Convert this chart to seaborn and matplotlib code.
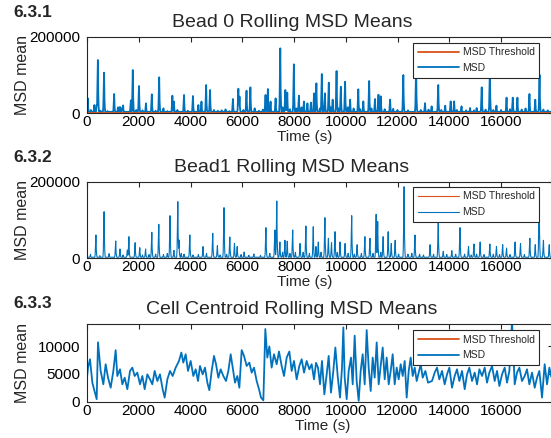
# -*- coding: utf-8 -*-
"""
Rolling MSD means for bead 0, bead 1 and the cell centroid (figure 6.3.1 - 6.3.3).
"""
import numpy as np
import pandas as pd
import matplotlib
matplotlib.use("Agg")
import matplotlib.pyplot as plt
import seaborn as sns

# ==============================================================================
# DATA
# ==============================================================================
T_END = 17940
X_TICKS = [0, 2000, 4000, 6000, 8000, 10000, 12000, 14000, 16000]

# Bead 0: spike times (s) and peak heights of the rolling MSD mean
bead0_spike_t = [0, 150, 290, 370, 425, 520, 657, 800, 1043, 1200, 1280, 1360, 1400,
                 1688, 1777, 1900, 2010, 2150, 2280, 2512, 2650, 2795, 2950, 3100,
                 3300, 3360, 3500, 3750, 3900, 4100, 4300, 4420, 4600, 4750, 4900,
                 5050, 5200, 5360, 5500, 5640, 5850, 5900, 6050, 6160, 6310, 6480,
                 6650, 6800, 6905, 6995, 7100, 7290, 7470, 7560, 7665, 7740, 7850,
                 8000, 8100, 8190, 8300, 8390, 8515, 8660, 8770, 8860, 9000, 9070,
                 9200, 9352, 9420, 9494, 9650, 9720, 9804, 9970, 10080, 10163, 10300,
                 10486, 10560, 10680, 10898, 11000, 11130, 11260, 11350, 11500, 11710,
                 11840, 12000, 12225, 12400, 12715, 12900, 13060, 13200, 13320, 13580,
                 13700, 13840, 14060, 14185, 14300, 14480, 14650, 14800, 14950, 15060,
                 15250, 15400, 15575, 15700, 15830, 16000, 16217, 16350, 16450, 16630,
                 16800, 16950, 17100, 17320, 17485, 17640, 17800]
bead0_spike_h = [38500, 8000, 21000, 21000, 138900, 6000, 105700, 5000, 49800, 15000,
                 16000, 14000, 20000, 33000, 112700, 8000, 70800, 7000, 25400, 49000,
                 6000, 93600, 12300, 5000, 45400, 30000, 8000, 47200, 6000, 44500,
                 21000, 30000, 73400, 60300, 8000, 6000, 7000, 9600, 5000, 36700,
                 63700, 43000, 8000, 58500, 67300, 12300, 6000, 9000, 47200, 62900,
                 30000, 38500, 169500, 15000, 60300, 53300, 10000, 127600, 12000,
                 45400, 15000, 30000, 25400, 27300, 51600, 77800, 12000, 102200,
                 51700, 79600, 15000, 34900, 110100, 12000, 68900, 82000, 15000,
                 34900, 12000, 62100, 10000, 30400, 83900, 12000, 36700, 48000,
                 43700, 10000, 34900, 11000, 8000, 99600, 7000, 121400, 8000, 26000,
                 9000, 17500, 73400, 8000, 19200, 30400, 30400, 8000, 17500, 7000,
                 13100, 7000, 13100, 67300, 9000, 115000, 8000, 19200, 8000, 40200,
                 10000, 40200, 40200, 9000, 12000, 49800, 34900, 100000, 9000, 7000]

# Bead 1: spike times (s) and peak heights
bead1_spike_t = [142, 348, 500, 657, 850, 1108, 1275, 1400, 1560, 1623, 1855, 2036,
                 2150, 2268, 2400, 2512, 2650, 2782, 2950, 3100, 3208, 3360, 3517,
                 3555, 3650, 3750, 3980, 4100, 4300, 4480, 4620, 4857, 5037, 5150,
                 5295, 5400, 5527, 5707, 5810, 5950, 6068, 6250, 6454, 6700, 6918,
                 7060, 7266, 7330, 7459, 7560, 7652, 7743, 7850, 7949, 8060, 8232,
                 8350, 8464, 8600, 8748, 8850, 8940, 9050, 9198, 9327, 9456, 9584,
                 9680, 9778, 9970, 10100, 10228, 10330, 10447, 10600, 10743, 10937,
                 11050, 11169, 11233, 11350, 11452, 11645, 11760, 11903, 12050, 12251,
                 12400, 12550, 12676, 12850, 13000, 13256, 13400, 13578, 13771, 13900,
                 14094, 14250, 14416, 14600, 14738, 14850, 14957, 15060, 15189, 15350,
                 15575, 15700, 15830, 15950, 16063, 16217, 16350, 16540, 16759, 16900,
                 17120, 17320, 17480, 17640, 17868]
bead1_spike_h = [9600, 60300, 6000, 121400, 11400, 44500, 23600, 8000, 21000, 55900,
                 40200, 27000, 8000, 23600, 9000, 67300, 10000, 88300, 9000, 12000,
                 110900, 20000, 147600, 47200, 12000, 10000, 60300, 8000, 9000, 30000,
                 12000, 64700, 32300, 8000, 131900, 9000, 55000, 38500, 30000, 9000,
                 15700, 7000, 10500, 7000, 79500, 12000, 73400, 149400, 42000, 15000,
                 46400, 44000, 12000, 73400, 15000, 38000, 15000, 83900, 12000, 82000,
                 30000, 42000, 15000, 105700, 51700, 40000, 68900, 15000, 42000, 38000,
                 12000, 110900, 10000, 34900, 12000, 55900, 51700, 12000, 114500,
                 95400, 15000, 55900, 68900, 38000, 46400, 10000, 186900, 10000, 12000,
                 60300, 10000, 8000, 34900, 10000, 93600, 17500, 9000, 19200, 10000,
                 79600, 10000, 30400, 8000, 36700, 10000, 42000, 9000, 36700, 10000,
                 30400, 9000, 34900, 26000, 9000, 42000, 38000, 9000, 51700, 34900,
                 182700, 46400, 34900]

bead0_floor = 3000
bead1_floor = 2000

# Cell centroid: rolling MSD mean sampled along the trace
cell_t = [0, 39, 116, 206, 271, 374, 425, 528, 631, 721, 812, 915, 1018, 1108, 1172,
          1275, 1366, 1456, 1559, 1662, 1752, 1842, 1945, 2049, 2139, 2229, 2332, 2435,
          2525, 2615, 2718, 2821, 2924, 3002, 3105, 3208, 3311, 3427, 3555, 3646, 3723,
          3813, 3903, 4006, 4110, 4200, 4290, 4367, 4470, 4560, 4651, 4728, 4818, 4908,
          4986, 5076, 5166, 5269, 5372, 5463, 5553, 5630, 5720, 5810, 5888, 5978, 6068,
          6171, 6274, 6364, 6454, 6558, 6648, 6725, 6815, 6892, 6969, 7047, 7137, 7227,
          7330, 7420, 7523, 7614, 7717, 7820, 7910, 8000, 8103, 8206, 8297, 8387, 8490,
          8593, 8683, 8773, 8851, 8928, 9005, 9082, 9173, 9263, 9340, 9430, 9520, 9598,
          9688, 9778, 9855, 9907, 9959, 10036, 10113, 10203, 10268, 10345, 10422, 10500,
          10577, 10654, 10732, 10809, 10886, 10964, 11041, 11118, 11196, 11273, 11350,
          11428, 11505, 11582, 11660, 11737, 11814, 11891, 11969, 12046, 12123, 12201,
          12278, 12355, 12433, 12510, 12587, 12665, 12742, 12819, 12896, 12974, 13077,
          13180, 13334, 13437, 13527, 13617, 13721, 13824, 13914, 14004, 14107, 14210,
          14300, 14390, 14494, 14597, 14687, 14777, 14880, 14983, 15074, 15164, 15267,
          15370, 15460, 15550, 15653, 15756, 15847, 15937, 16040, 16143, 16233, 16323,
          16426, 16529, 16619, 16709, 16812, 16915, 17005, 17096, 17199, 17302, 17392,
          17482, 17585, 17688, 17779, 17869, 17940]
cell_msd = [4330, 6140, 7650, 3460, 2250, 450, 10700, 5540, 3130, 6750, 4330, 2520,
            5540, 9290, 4630, 5840, 3130, 4330, 2250, 5540, 6140, 4630, 5240, 3130,
            4630, 2250, 4930, 4030, 3130, 5540, 3730, 4930, 2250, 740, 4030, 5540,
            4630, 6140, 7340, 8850, 7040, 8550, 5540, 7340, 4630, 5840, 3730, 6440,
            4930, 6140, 3430, 2070, 5540, 8250, 6750, 4330, 5840, 4630, 3730, 5540,
            8550, 6140, 3430, 4630, 2520, 9290, 8250, 6440, 7040, 5240, 6140, 3730,
            2250, 740, 250, 13090, 7950, 9960, 6140, 8550, 6750, 9050, 6440, 4630,
            7950, 9050, 5540, 7340, 4030, 6440, 7650, 5240, 7340, 5840, 6750, 4030,
            7000, 6140, 3130, 7340, 1330, 4930, 8250, 1630, 5540, 9770, 4630, 740,
            6140, 13390, 4330, 450, 5540, 7950, 3130, 11900, 3730, 150, 5540, 8550,
            3130, 12900, 6140, 1930, 7950, 4330, 10680, 3130, 6440, 9770, 4030, 7950,
            3130, 5540, 8550, 3130, 6140, 4030, 6750, 4630, 7340, 740, 5540, 7950,
            4630, 6140, 3730, 5240, 6750, 4330, 5540, 3430, 3730, 5240, 6140, 4030,
            5540, 3130, 4930, 6140, 2520, 4630, 5840, 3730, 5540, 2250, 4930, 6140,
            3730, 5240, 3130, 5840, 4630, 6140, 3430, 5240, 6440, 3730, 5540, 2820,
            4930, 6140, 3430, 5540, 14500, 3130, 5240, 6140, 3730, 4630, 5840, 3130,
            5240, 2520, 4330, 5540, 740, 6750, 3130, 6140, 4500]

thresholds = [0, 0, -2000]
titles = ["Bead 0 Rolling MSD Means", "Bead1 Rolling MSD Means",
          "Cell Centroid Rolling MSD Means"]
panel_tags = ["6.3.1", "6.3.2", "6.3.3"]

MSD_BLUE = "#0072BD"
THR_ORANGE = "#D95319"
AX_COLOR = "#262626"


def spike_trace(spike_t, spike_h, floor):
    """Place each read-off spike on a fine time grid over a low floor."""
    grid = np.arange(0, T_END + 1, 15)
    vals = np.full(len(grid), float(floor))
    for t, h in zip(spike_t, spike_h):
        i = int(round(t / 15))
        i = min(max(i, 2), len(grid) - 3)
        vals[i] = max(vals[i], h)
        vals[i - 1] = max(vals[i - 1], 0.55 * h)
        vals[i + 1] = max(vals[i + 1], 0.35 * h)
        vals[i - 2] = max(vals[i - 2], 0.15 * h)
        vals[i + 2] = max(vals[i + 2], 0.12 * h)
    return pd.DataFrame({"Time (s)": grid, "MSD mean": vals})


def main():
    sns.set_theme(style="white")
    plt.rcParams["font.family"] = ["Liberation Sans", "DejaVu Sans"]

    fig = plt.figure(figsize=(5.51, 4.38), dpi=100)

    W, H = 551, 438
    left, width = 87 / W, 465.75 / W
    # (top, bottom) of each axes in pixels
    boxes = [(36.7, 113.0), (181.7, 258.0), (324.0, 401.7)]
    tag_y = [17.3, 162.3, 308.3]
    legend_top = [0.921, 0.934, 0.923]
    line_w = [1.3, 0.8, 1.3]
    xlabel_x = [0.468, 0.468, 0.505]

    traces = [
        spike_trace(bead0_spike_t, bead0_spike_h, bead0_floor),
        spike_trace(bead1_spike_t, bead1_spike_h, bead1_floor),
        pd.DataFrame({"Time (s)": cell_t, "MSD mean": cell_msd}),
    ]

    for k in range(3):
        top, bot = boxes[k]
        ax = fig.add_axes([left, 1 - bot / H, width, (bot - top) / H])
        df = traces[k]
        thr = pd.DataFrame({"Time (s)": [0, T_END], "MSD mean": [thresholds[k]] * 2})

        sns.lineplot(data=df, x="Time (s)", y="MSD mean", ax=ax, color=MSD_BLUE,
                     linewidth=line_w[k], estimator=None, errorbar=None, label="MSD")
        sns.lineplot(data=thr, x="Time (s)", y="MSD mean", ax=ax, color=THR_ORANGE,
                     linewidth=line_w[k], estimator=None, errorbar=None,
                     label="MSD Threshold", zorder=2.2)

        ax.set_xlim(0, 18000)
        if k < 2:
            ax.set_ylim(0, 200000)
            ax.set_yticks([0, 200000])
        else:
            ax.set_ylim(0, 14000)
            ax.set_yticks([0, 5000, 10000])
        ax.set_xticks(X_TICKS)

        for sp in ax.spines.values():
            sp.set_color(AX_COLOR)
            sp.set_linewidth(0.8)
        ax.tick_params(direction="in", length=3.5, width=0.8, color=AX_COLOR,
                       top=True, right=True, labelsize=11, labelcolor="black")
        ax.tick_params(axis="x", pad=1.5)
        ax.tick_params(axis="y", pad=5)

        ax.set_title(titles[k], fontsize=14, x=0.44, pad=7)
        ax.set_xlabel("Time (s)", fontsize=11)
        ax.set_ylabel("MSD mean", fontsize=11.5)
        ax.xaxis.set_label_coords(xlabel_x[k], -0.225)
        ax.yaxis.set_label_coords(-0.122, 0.5)

        handles, labels = ax.get_legend_handles_labels()
        order = [labels.index("MSD Threshold"), labels.index("MSD")]
        leg = ax.legend([handles[i] for i in order], [labels[i] for i in order],
                        loc="upper right", bbox_to_anchor=(0.971, legend_top[k]),
                        borderaxespad=0, fontsize=7.5, handlelength=4,
                        handletextpad=0.3, borderpad=0.45, labelspacing=0.55,
                        fancybox=False, framealpha=1, edgecolor=AX_COLOR)
        leg.get_frame().set_linewidth(0.8)

        fig.text(13 / W, 1 - tag_y[k] / H, panel_tags[k], fontsize=12.5,
                 fontweight="bold", va="baseline", ha="left")

    fig.savefig("out.png", dpi=100)
    plt.close(fig)


if __name__ == "__main__":
    main()
